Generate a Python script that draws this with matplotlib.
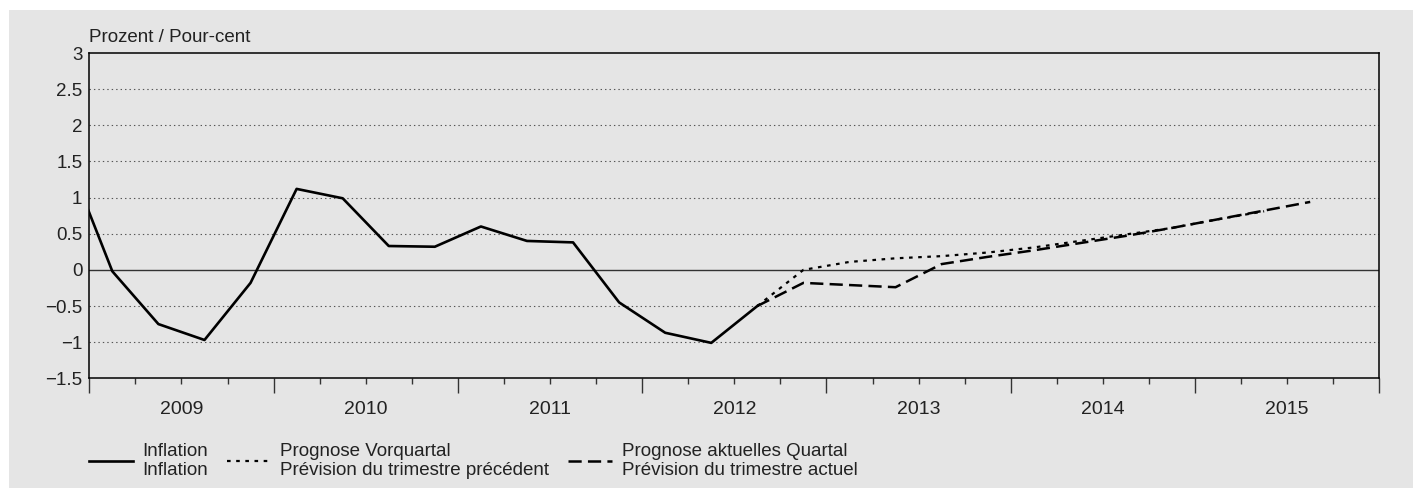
import matplotlib
matplotlib.use("Agg")
import matplotlib.pyplot as plt
from matplotlib.patches import Rectangle

# Quarterly values, first point is 2008 Q4
inflation_start = (2008, 4)
inflation = [1.6, -0.02, -0.75, -0.97, -0.18, 1.12, 0.99, 0.33, 0.32,
             0.6, 0.4, 0.38, -0.45, -0.87, -1.01, -0.5]

# Forecasts, first point is 2012 Q3
forecast_start = (2012, 3)
prev_forecast = [-0.5, 0.0, 0.11, 0.16, 0.19, 0.24, 0.31, 0.40, 0.49,
                 0.58, 0.70, 0.81]
curr_forecast = [-0.5, -0.18, -0.21, -0.24, 0.08, 0.18, 0.27, 0.37, 0.47,
                 0.58, 0.70, 0.82, 0.94]

years = [2009, 2010, 2011, 2012, 2013, 2014, 2015]
y_ticks = [-1.5, -1, -0.5, 0, 0.5, 1, 1.5, 2, 2.5, 3]
y_tick_labels = ["\u22121.5", "\u22121", "\u22120.5", "0", "0.5", "1",
                 "1.5", "2", "2.5", "3"]

labels = ["Inflation\nInflation",
          "Prognose Vorquartal\nPr\u00e9vision du trimestre pr\u00e9c\u00e9dent",
          "Prognose aktuelles Quartal\nPr\u00e9vision du trimestre actuel"]


def quarter_x(start, n):
    y, q = start
    return [y + (q - 1 + i + 0.5) / 4 for i in range(n)]


plt.rcParams['font.family'] = ['Liberation Sans', 'DejaVu Sans']
plt.rcParams['font.size'] = 13.5
plt.rcParams['text.color'] = '#222222'
plt.rcParams['lines.scale_dashes'] = False

W, H = 1413, 497
fig = plt.figure(figsize=(W / 100, H / 100), dpi=100, facecolor='white')

# grey panel behind everything
fig.patches.append(Rectangle((9 / W, 9 / H), 1 - 9 / W, (H - 19) / H,
                             transform=fig.transFigure, facecolor='#e5e5e5',
                             edgecolor='none', zorder=-1))

ax = fig.add_axes([89.3 / W, (H - 378.3) / H, 1290 / W, 325.3 / H])
ax.patch.set_alpha(0)

for v in y_ticks[1:-1]:
    if v == 0:
        ax.axhline(v, color='#333333', lw=1.0, zorder=1)
    else:
        ax.axhline(v, color='#555555', lw=0.8, ls=(0, (1, 2.2)), zorder=1)

ax.plot(quarter_x(inflation_start, len(inflation)), inflation,
        color='black', lw=1.9, label=labels[0], zorder=4)
ax.plot(quarter_x(forecast_start, len(prev_forecast)), prev_forecast,
        color='black', lw=1.6, ls=(0, (2.6, 4.0)), label=labels[1], zorder=3)
ax.plot(quarter_x(forecast_start, len(curr_forecast)), curr_forecast,
        color='black', lw=1.8, ls=(0, (9.5, 4.5)), label=labels[2], zorder=3)

ax.set_xlim(years[0], years[-1] + 1)
ax.set_ylim(y_ticks[0], y_ticks[-1])

for s in ax.spines.values():
    s.set_linewidth(1.1)
    s.set_color('black')

ax.set_yticks(y_ticks)
ax.set_yticklabels(y_tick_labels)
ax.tick_params(axis='y', length=0, pad=5, labelcolor='#222222')

# year boundaries long ticks, quarters short ticks, year label at mid-year
ax.set_xticks([y for y in years] + [years[-1] + 1])
ax.set_xticklabels([])
ax.tick_params(axis='x', which='major', length=11, width=1.0,
               color='#333333', direction='out')
quarters = [y + q / 4 for y in years for q in (1, 2, 3)]
ax.set_xticks(quarters, minor=True)
ax.set_xticklabels([str(int(x)) if (x % 1) == 0.5 else "" for x in quarters],
                   minor=True)
ax.tick_params(axis='x', which='minor', length=4.5, width=1.0,
               color='#333333', direction='out', pad=12,
               labelcolor='#222222', labelsize=14)

ax.annotate("Prozent / Pour-cent", xy=(0, 1), xycoords='axes fraction',
            xytext=(0, 11), textcoords='offset points', ha='left',
            va='center')

ax.legend(loc='upper left', bbox_to_anchor=(89 / W, 54 / H),
          bbox_transform=fig.transFigure, ncol=3, frameon=False,
          borderpad=0, borderaxespad=0, handlelength=2.35,
          handletextpad=0.5, columnspacing=1.0, labelspacing=0)
for t in ax.get_legend().get_texts():
    t.set_linespacing(1.12)

fig.savefig("out.png", dpi=100, facecolor='white')
